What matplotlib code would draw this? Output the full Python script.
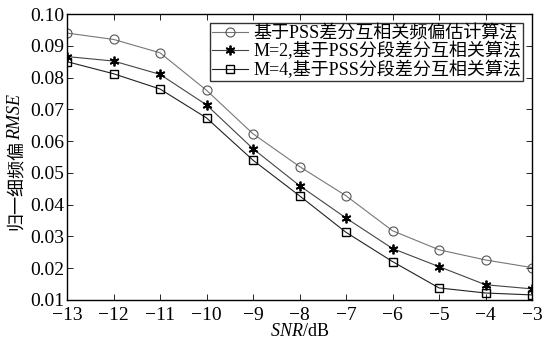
import numpy as np
import matplotlib
matplotlib.use('Agg')
import matplotlib.pyplot as plt

plt.rcParams['font.family'] = ['Liberation Serif', 'Noto Sans CJK SC']
plt.rcParams['mathtext.fontset'] = 'custom'
plt.rcParams['mathtext.it'] = 'Liberation Serif:italic'
plt.rcParams['mathtext.rm'] = 'Liberation Serif'

snr = [-13, -12, -11, -10, -9, -8, -7, -6, -5, -4, -3]
pss_diff = [0.094, 0.092, 0.0878, 0.076, 0.0623, 0.052, 0.0428, 0.0318, 0.0258, 0.0226, 0.0202]
seg_m2 = [0.0866, 0.0852, 0.081, 0.0714, 0.0576, 0.046, 0.0358, 0.0262, 0.0205, 0.0148, 0.0135]
seg_m4 = [0.085, 0.0812, 0.0764, 0.0673, 0.054, 0.0428, 0.0313, 0.0221, 0.0138, 0.0122, 0.0116]
labels = ['基于PSS差分互相关频偏估计算法',
          'M=2,基于PSS分段差分互相关算法',
          'M=4,基于PSS分段差分互相关算法']

fig = plt.figure(figsize=(5.46, 3.45), dpi=100)
ax = fig.add_axes([67/546, 45/345, 465/546, 286/345])

ax.plot(snr, pss_diff, color='#777777', lw=0.8, marker='o', ms=6.5,
        mfc='none', mec='#555555', mew=0.8, label=labels[0])
ax.plot(snr, seg_m2, color='#444444', lw=0.8, marker=(6, 2, 0), ms=7,
        mfc='black', mec='black', mew=1.3, label=labels[1])
ax.plot(snr, seg_m4, color='#222222', lw=0.8, marker='s', ms=5.5,
        mfc='none', mec='black', mew=1.0, label=labels[2])

ax.set_xlim(-13, -3)
ax.set_ylim(0.01, 0.10)
ax.set_xticks(snr)
ax.set_xticklabels(['\u2212%d' % abs(v) for v in snr])
yt = np.arange(0.01, 0.1001, 0.01)
ax.set_yticks(yt)
ax.set_yticklabels(['%.2f' % v for v in yt])
ax.tick_params(direction='in', top=True, right=True, labelsize=14, length=4, width=0.6, pad=2)
ax.tick_params(axis='x', pad=5)
for s in ax.spines.values():
    s.set_linewidth(1.0)

ax.set_xlabel('$\\it{SNR}$/dB', fontsize=13, labelpad=-1)

# y label: chinese part + italic RMSE, stacked
t1 = fig.text(16/546, 1 - 230/345, '归一细频偏', rotation=90, fontsize=13,
              ha='center', va='bottom', family=['Noto Sans CJK SC'])
fig.canvas.draw()
bb = t1.get_window_extent()
fig.text(16/546, bb.y1 / fig.bbox.height, 'RMSE', rotation=90, fontsize=13,
         style='italic', ha='center', va='bottom', family=['Liberation Serif'])

leg = ax.legend(loc='upper right', fontsize=13, frameon=True, fancybox=False,
                borderpad=0.1, labelspacing=0.0, handlelength=2.0,
                handletextpad=0.3, borderaxespad=0.5)
leg.get_frame().set_edgecolor('black')
leg.get_frame().set_linewidth(1.0)

fig.savefig('out.png', dpi=100)
